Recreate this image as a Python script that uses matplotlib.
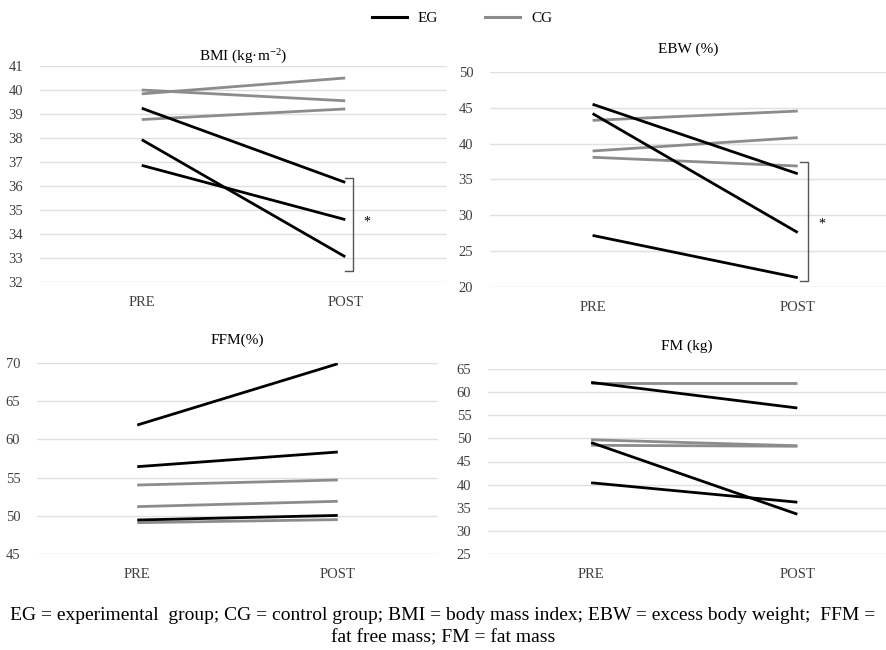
import matplotlib.pyplot as plt
from matplotlib.lines import Line2D

plt.rcParams['font.family'] = ['Liberation Serif', 'DejaVu Serif']
plt.rcParams['mathtext.fontset'] = 'custom'
plt.rcParams['mathtext.rm'] = 'Liberation Serif'

times = ['PRE', 'POST']

# BMI (kg.m-2)
bmi_eg = [[39.24, 36.15], [37.93, 33.05], [36.86, 34.6]]
bmi_cg = [[40.0, 39.55], [39.84, 40.5], [38.77, 39.21]]
# EBW (%)
ebw_eg = [[45.5, 35.8], [44.2, 27.6], [27.2, 21.3]]
ebw_cg = [[43.25, 44.55], [38.98, 40.84], [38.1, 36.88]]
# FFM (%)
ffm_eg = [[61.88, 69.9], [56.43, 58.35], [49.45, 50.05]]
ffm_cg = [[54.03, 54.69], [51.2, 51.9], [49.1, 49.5]]
# FM (kg)
fm_eg = [[62.1, 56.57], [49.1, 33.6], [40.4, 36.2]]
fm_cg = [[62.0, 62.0], [49.7, 48.4], [48.5, 48.3]]

EG_COL = '#000000'
CG_COL = '#8c8c8c'
GRID = '#e0e0e0'

fig = plt.figure(figsize=(8.86, 6.5), dpi=100)
W, H = 886, 650


def px_axes(l, r, top, bot):
    return fig.add_axes([l / W, 1 - bot / H, (r - l) / W, (bot - top) / H])


panels = [
    # box in pixels, ylim, step, title, title pad, eg, cg, xlim
    ((40, 447, 66, 282), (32, 41), 1, 'BMI (kg\u00b7m$\\mathregular{^{-2}}$)', 3, bmi_eg, bmi_cg, (-0.5, 1.5)),
    ((490, 886, 72, 287), (20, 50), 5, 'EBW (%)', 14, ebw_eg, ebw_cg, (-0.5, 1.43)),
    ((37, 438, 363, 554), (45, 70), 5, 'FFM(%)', 14, ffm_eg, ffm_cg, (-0.5, 1.5)),
    ((488, 886, 369, 554), (25, 65), 5, 'FM (kg)', 14, fm_eg, fm_cg, (-0.5, 1.43)),
]

axes = []
for box, ylim, step, title, tpad, eg, cg, xlim in panels:
    ax = px_axes(*box)
    for pair in cg:
        ax.plot([0, 1], pair, color=CG_COL, lw=2.0, solid_capstyle='butt', zorder=3)
    for pair in eg:
        ax.plot([0, 1], pair, color=EG_COL, lw=2.0, solid_capstyle='butt', zorder=4)
    ax.set_ylim(*ylim)
    ax.set_xlim(*xlim)
    ax.set_yticks(range(ylim[0], ylim[1] + 1, step))
    ax.set_xticks([0, 1])
    ax.set_xticklabels(times)
    ax.yaxis.grid(True, color=GRID, lw=1.0)
    ax.set_axisbelow(True)
    for s in ax.spines.values():
        s.set_visible(False)
    ax.tick_params(length=0, labelsize=10.5, colors='#404040', pad=12)
    ax.tick_params(axis='x', pad=10)
    ax.set_title(title, fontsize=11, pad=tpad)
    axes.append(ax)

# significance brackets
def bracket(ax, x, y0, y1, ys):
    ax.plot([x - 0.04, x, x, x - 0.04], [y1, y1, y0, y0], color='#555555', lw=1.0, clip_on=False)
    ax.text(x + 0.05, ys, '*', fontsize=10, va='center', ha='left')

bracket(axes[0], 1.04, 32.45, 36.35, 34.5)
bracket(axes[1], 1.05, 20.85, 37.45, 28.8)

# legend
handles = [Line2D([], [], color=EG_COL, lw=2.2), Line2D([], [], color=CG_COL, lw=2.2)]
fig.legend(handles, ['EG', 'CG'], loc='center', bbox_to_anchor=(462 / W, 1 - 18 / H),
           ncol=2, frameon=False, fontsize=11, handlelength=2.3, columnspacing=3.1,
           handletextpad=0.7)

fig.text(0.5, 1 - 616 / H,
         'EG = experimental  group; CG = control group; BMI = body mass index; '
         'EBW = excess body weight;  FFM =',
         ha='center', va='center', fontsize=14)
fig.text(0.5, 1 - 638 / H, 'fat free mass; FM = fat mass',
         ha='center', va='center', fontsize=14)

fig.savefig('out.png', dpi=100)
